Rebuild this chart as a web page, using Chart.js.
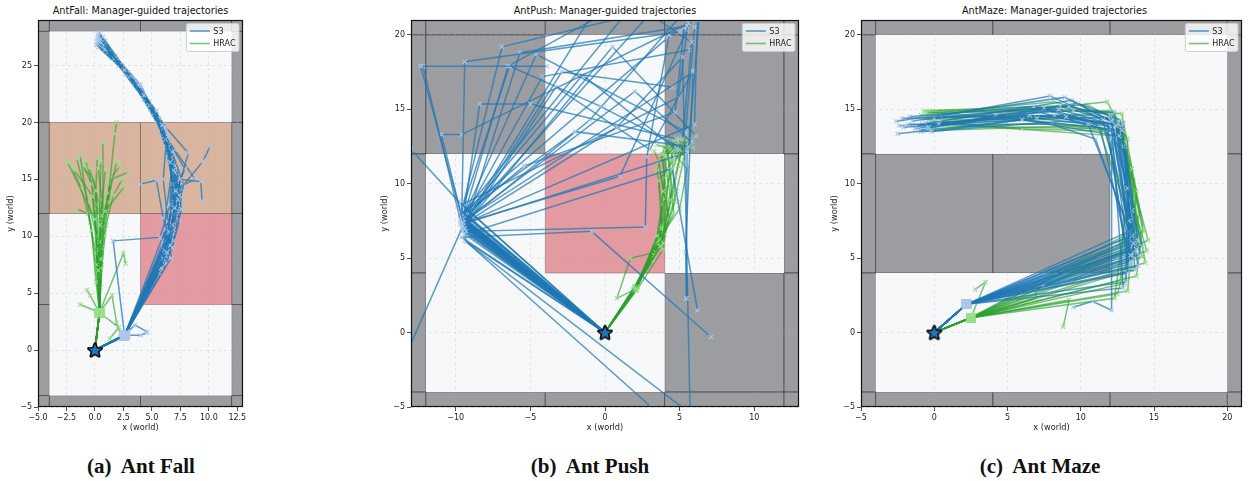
<!DOCTYPE html>
<html>
<head>
<meta charset="utf-8">
<script src="https://cdn.jsdelivr.net/npm/chart.js@4.4.0/dist/chart.umd.min.js"></script>
<style>
body { margin: 0; background: #fff; width: 1251px; height: 481px; position: relative; overflow: hidden; font-family: "DejaVu Sans", sans-serif; }
canvas { position: absolute; top: 0; }
.ttl { position: absolute; top: 5px; width: 240px; font-size: 9.7px; line-height: 12px; text-align: center; color: #111; }
.cap { position: absolute; top: 454px; width: 300px; font-family: "Liberation Serif", serif; font-weight: bold; font-size: 21px; text-align: center; color: #111; white-space: pre; }
</style>
</head>
<body>
<div class="ttl" style="left:20.5px">AntFall: Manager-guided trajectories</div>
<div class="ttl" style="left:485px">AntPush: Manager-guided trajectories</div>
<div class="ttl" style="left:934.5px">AntMaze: Manager-guided trajectories</div>
<canvas id="cFall" width="265" height="440" style="left:0px"></canvas>
<canvas id="cPush" width="450" height="440" style="left:370px"></canvas>
<canvas id="cMaze" width="431" height="440" style="left:820px"></canvas>
<div class="cap" style="left:-9px">(a)  Ant Fall</div>
<div class="cap" style="left:440px">(b)  Ant Push</div>
<div class="cap" style="left:890px">(c)  Ant Maze</div>
<script>
// --- donnees ---
const seriesNames = ['S3', 'HRAC'];
const startPoint = [0, 0];

// ticks
const fallXTicks = [-5, -2.5, 0, 2.5, 5, 7.5, 10, 12.5];
const fallYTicks = [-5, 0, 5, 10, 15, 20, 25];
const pushXTicks = [-10, -5, 0, 5, 10];
const pushYTicks = [-5, 0, 5, 10, 15, 20];
const mazeXTicks = [-5, 0, 5, 10, 15, 20];
const mazeYTicks = [-5, 0, 5, 10, 15, 20];

// limites des axes [min, max]
const fallXLim = [-5, 13], fallYLim = [-5, 29];
const pushXLim = [-13, 13], pushYLim = [-5, 21];
const mazeXLim = [-5, 21], mazeYLim = [-5, 21];

// labyrinthes : cases de 8 unites, lignes du haut vers le bas
// '#' mur, '.' sol, 'p' bloc mobile, 'o' zone de chute
const CELL = 8;
const fallGrid = ['####', '#..#', '#oo#', '#.p#', '#..#', '####'];
const fallOrigin = [-12, 36];   // x gauche, y haut
const pushGrid = ['#####', '##.##', '#.p.#', '#..##', '#####'];
const pushOrigin = [-20, 28];
const mazeGrid = ['#####', '#...#', '###.#', '#...#', '#####'];
const mazeOrigin = [-12, 28];

// AntFall
const fallS3 = [
  [[0,0],[2.6,1.3],[6.3,8.6],[7.0,12.5],[6.6,16.5],[5.9,19.8],[4.3,22.4],[2.6,24.6],[0.5,27.3]],
  [[0,0],[2.6,1.3],[6.0,8.0],[6.8,11.0],[7.1,14.0],[6.2,18.5],[4.8,21.5],[3.0,24.0],[0.8,26.8]],
  [[0,0],[2.5,1.2],[6.6,9.2],[7.3,13.2],[6.9,15.8],[6.0,19.5],[3.8,23.2],[1.7,25.6],[0.3,27.6]],
  [[0,0],[2.7,1.4],[5.8,7.2],[6.5,10.4],[6.8,14.6],[6.4,17.8],[5.2,20.8],[3.5,23.5],[0.9,26.4]],
  [[0,0],[2.6,1.2],[6.2,8.3],[6.9,10.6],[7.4,13.6],[7.0,15.6],[5.6,20.4],[2.2,25.1],[0.2,27.1]],
  [[0,0],[2.6,1.3],[1.6,9.6],[5.7,9.9],[6.6,12.8],[6.7,16.9],[5.4,21.0],[3.2,24.0],[0.6,27.0]],
  [[0,0],[2.6,1.3],[6.6,10.3],[7.5,15.0],[9.3,14.8],[9.4,13.1]],
  [[0,0],[2.6,1.3],[6.4,9.0],[7.2,13.8],[9.5,16.6],[10.1,17.9]],
  [[0,0],[2.6,1.3],[6.1,8.8],[6.7,12.2],[8.2,17.3],[6.2,19.6],[4.1,22.8],[1.2,26.2],[0.4,27.9]],
  [[0,0],[2.6,1.3],[6.5,10.0],[6.0,11.6],[5.4,14.9],[4.0,14.6]],
  [[0,0],[2.6,1.3],[6.9,9.6],[7.6,12.4],[7.0,16.2],[6.1,19.0],[4.4,22.0],[2.4,24.8],[0.1,26.9]],
  [[0,0],[2.6,1.3],[4.0,1.3],[4.5,1.5]],
  [[0,0],[2.6,1.3],[3.5,2.2],[4.6,1.6]],
  [[0,0],[2.6,1.3],[5.6,6.8],[6.3,10.8],[7.0,13.0],[6.8,17.4],[5.7,20.0],[4.0,23.0],[1.9,25.4],[0.7,27.5]],
  [[0,0],[2.6,1.3],[6.2,9.6],[7.1,12.0],[7.8,14.5],[6.5,18.2],[5.0,21.2],[2.8,24.3],[0.3,26.6]],
  [[0,0],[2.6,1.3],[6.7,8.1],[6.4,11.3],[6.0,15.0],[6.3,18.9],[4.7,21.8],[3.3,23.8],[0.9,27.2]],
  [[0,0],[2.6,1.3],[6.1,8.4],[6.9,11.8],[7.2,14.8],[6.5,17.2],[5.5,20.2],[3.6,23.4],[1.4,25.9],[0.4,27.0]],
  [[0,0],[2.6,1.3],[6.4,9.4],[7.3,12.9],[7.0,15.2],[6.1,18.8],[4.9,21.2],[2.9,24.4],[0.7,26.9]],
  [[0,0],[2.6,1.3],[5.9,7.8],[6.6,11.5],[6.9,13.9],[6.6,17.0],[5.8,19.4],[4.2,22.6],[2.0,25.3],[0.2,27.4]],
  [[0,0],[2.6,1.3],[6.5,9.8],[7.2,12.2],[7.5,14.1],[6.9,16.5],[6.0,19.1],[4.5,22.1],[2.5,24.7],[0.6,26.6]],
  [[0,0],[2.6,1.3],[6.8,9.0],[7.4,11.4],[7.1,14.4],[6.4,18.1],[5.3,20.6],[3.4,23.7],[1.1,26.3]],
  [[0,0],[2.6,1.3],[6.0,9.1],[6.8,12.7],[6.7,15.4],[6.2,17.9],[5.1,21.1],[3.9,22.9],[1.5,25.7],[0.3,27.8]],
  [[0,0],[2.6,1.3],[6.3,7.6],[7.0,10.2],[7.6,13.4],[7.2,16.0],[6.3,18.6],[4.6,21.7],[2.7,24.2],[0.8,27.0]],
  [[0,0],[2.6,1.3],[6.6,8.7],[6.9,13.5],[7.9,15.9],[6.0,19.2],[4.0,23.3],[1.8,25.8],[0.5,27.6]],
  [[0,0],[2.6,1.3],[6.2,10.6],[7.3,14.3],[8.8,15.0],[7.0,17.6],[5.4,20.0],[3.1,24.1],[0.2,26.8]],
  [[0,0],[2.6,1.3],[6.0,9.5],[6.3,12.6],[6.8,16.0],[5.6,19.9],[4.3,22.0],[2.1,25.0],[0.6,27.3]]
];
const fallHRAC = [
  [[0,0],[0.4,3.3],[0.3,7.0],[0.4,11.0],[0.5,16.5]],
  [[0,0],[0.4,3.3],[0.1,6.0],[-0.3,10.5],[-1.3,17.1]],
  [[0,0],[0.4,3.3],[0.5,8.0],[0.9,12.2],[1.9,16.5]],
  [[0,0],[0.4,3.3],[0.2,7.5],[0.0,11.5],[-2.4,16.5]],
  [[0,0],[0.4,3.3],[0.4,9.5],[1.2,13.8],[1.75,19.0],[1.9,20.0]],
  [[0,0],[0.4,3.3],[0.3,6.5],[0.6,11.8],[2.6,14.4]],
  [[0,0],[0.4,3.3],[0.1,8.5],[-0.6,12.0],[-1.6,12.4]],
  [[0,0],[0.4,3.3],[0.5,7.2],[0.7,10.8],[0.7,18.2]],
  [[0,0],[0.4,3.3],[-1.3,4.0]],
  [[0,0],[0.4,3.3],[-0.7,5.3],[-0.4,4.8]],
  [[0,0],[0.4,3.3],[2.5,8.5],[2.7,7.6]],
  [[0,0],[0.4,3.3],[2.1,2.0],[1.3,1.0]],
  [[0,0],[0.4,3.3],[0.3,8.8],[-0.2,13.5],[-1.8,15.8]],
  [[0,0],[0.4,3.3],[0.6,9.0],[1.1,13.0],[1.3,14.6]],
  [[0,0],[0.4,3.3],[0.2,10.0],[0.1,14.0],[-0.5,16.0]],
  [[0,0],[0.4,3.3],[0.5,5.5],[0.8,10.0],[1.5,15.2],[2.2,16.2]],
  [[0,0],[0.4,3.3],[1.5,4.8],[1.9,2.4],[2.3,1.2]],
  [[0,0],[0.4,3.3],[0.2,6.8],[0.1,10.0],[-0.3,14.6],[-1.0,16.2]],
  [[0,0],[0.4,3.3],[0.4,7.8],[0.5,11.4],[0.9,15.8]],
  [[0,0],[0.4,3.3],[0.3,9.0],[0.2,12.8],[-0.8,16.6]],
  [[0,0],[0.4,3.3],[0.5,8.4],[0.8,12.0],[1.4,15.0],[2.9,15.6]],
  [[0,0],[0.4,3.3],[0.1,7.2],[-0.4,11.2],[-1.2,14.2],[-2.0,16.0]],
  [[0,0],[0.4,3.3],[0.4,8.0],[0.6,13.2],[0.3,15.9]],
  [[0,0],[0.4,3.3],[0.3,6.0],[0.2,9.8],[-0.6,13.0],[-1.6,16.8]],
  [[0,0],[0.4,3.3],[0.6,7.5],[1.0,11.0],[1.6,13.6],[2.4,15.0]],
  [[0,0],[0.4,3.3],[0.2,8.2],[0.0,12.4],[0.2,16.8]],
  [[0,0],[0.4,3.3],[0.5,9.2],[0.4,12.6],[-0.2,15.2],[-1.1,16.0]]
];

// AntPush
const pushS3 = [
  [[0,0],[-9.5,7.4],[-12.35,17.9],[-3.9,17.9]],
  [[0,0],[-9.6,7.8],[-9.4,18.2],[5.0,20.2]],
  [[0,0],[-9.4,7.0],[-5.7,18.8],[5.5,20.6]],
  [[0,0],[-9.5,7.6],[-8.4,15.35],[-5.0,15.35],[4.8,13.0]],
  [[0,0],[-9.7,8.2],[-10.96,13.3],[-9.6,13.3],[5.6,20.8]],
  [[0,0],[-9.3,6.8],[2.7,7.1],[2.8,11.8],[4.3,20.0]],
  [[0,0],[-9.5,7.2],[-0.8,21.5]],
  [[0,0],[-9.6,7.9],[1.45,21.5]],
  [[0,0],[-9.5,7.5],[3.0,21.4],[5.8,19.5],[5.2,13.0]],
  [[0,0],[-9.4,6.6],[4.5,11.0],[6.2,1.5]],
  [[0,0],[-9.5,7.3],[5.5,12.1],[5.44,2.3]],
  [[0,0],[-9.8,8.8],[-13.0,12.3]],
  [[0,0],[-9.6,7.0],[-13.2,-1.2]],
  [[0,0],[-9.5,7.7],[-6.5,17.9],[0.1,21.5]],
  [[0,0],[-9.3,7.4],[0.8,13.8],[5.2,18.5],[5.7,-5.2]],
  [[0,0],[-9.5,8.0],[-2.0,13.5],[5.6,12.5],[6.3,21.0]],
  [[0,0],[-9.6,6.4],[-0.9,6.8],[7.1,-0.3]],
  [[0,0],[-9.4,6.2],[3.1,-5.0]],
  [[0,0],[-9.5,7.5],[-9.3,6.1],[5.4,-5.2]],
  [[0,0],[-9.5,7.5],[5.9,17.5],[5.4,5.4],[5.5,2.3]],
  [[0,0],[-9.7,7.6],[-12.2,17.9]],
  [[0,0],[-9.5,7.1],[-2.9,17.5],[4.5,16.5]],
  [[0,0],[-9.6,7.5],[-4.6,18.7],[5.4,13.5],[6.0,20.5]],
  [[0,0],[-9.4,7.9],[-1.5,17.3],[4.8,12.3]],
  [[0,0],[-9.5,7.3],[6.0,14.0],[6.2,21.2]],
  [[0,0],[-9.6,7.7],[-5.4,11.2],[4.7,14.8],[5.3,20.5]],
  [[0,0],[-9.5,6.9],[-3.3,16.5],[3.0,12.3],[5.9,17.6]],
  [[0,0],[-9.4,7.2],[0.5,19.2],[6.1,13.2]],
  [[0,0],[-9.7,7.3],[1.0,10.5],[5.8,21.0]],
  [[0,0],[-9.5,8.5],[-6.4,17.9],[-0.3,15.2],[5.5,12.2]],
  [[0,0],[-9.5,7.6],[-4.2,17.2],[5.7,19.0]],
  [[0,0],[-9.4,7.1],[-9.6,8.6],[4.9,15.8],[5.5,20.3]],
  [[0,0],[-9.6,7.4],[2.0,16.2],[5.8,12.8]],
  [[0,0],[-9.5,6.8],[-9.7,7.9],[4.2,19.8]],
  [[0,0],[-9.3,7.5],[-1.0,14.3],[5.1,21.3]],
  [[0,0],[-9.6,8.2],[-6.9,19.2],[2.6,21.5]]
];
const pushHRAC = [
  [[0,0],[2.0,3.0],[3.7,5.8],[4.4,8.9],[4.0,11.8],[4.8,12.6]],
  [[0,0],[2.1,2.9],[3.5,6.5],[3.9,9.5],[3.6,11.5],[3.3,12.2]],
  [[0,0],[2.0,3.1],[3.9,6.0],[4.2,10.0],[5.0,12.3],[5.6,12.8]],
  [[0,0],[1.9,2.8],[3.3,5.2],[4.6,8.0],[4.3,11.0],[4.1,12.9]],
  [[0,0],[2.1,3.0],[3.8,7.0],[3.6,10.2],[4.6,11.6],[5.9,12.4]],
  [[0,0],[2.0,2.9],[0.8,2.3],[1.7,5.0],[3.4,5.4]],
  [[0,0],[2.0,3.0],[4.0,6.6],[4.8,9.5],[5.3,11.8],[5.0,13.0]],
  [[0,0],[2.2,3.1],[3.6,6.2],[4.3,7.6],[3.7,10.8],[3.4,11.0]],
  [[0,0],[2.0,3.0],[3.4,6.0],[5.0,8.3],[5.5,11.0],[4.5,12.2]],
  [[0,0],[2.1,2.8],[3.9,5.6],[4.3,8.5],[4.7,10.5],[5.4,13.3]],
  [[0,0],[2.0,3.0],[3.2,4.8],[4.0,9.0],[3.9,12.0],[4.9,12.9]],
  [[0,0],[2.1,3.1],[3.8,7.2],[4.5,9.7],[4.2,12.4],[3.5,12.6]],
  [[0,0],[2.0,3.0],[3.6,6.0],[4.1,9.2],[4.4,11.4],[4.6,12.9]],
  [[0,0],[2.1,2.9],[3.7,6.3],[3.8,8.6],[3.5,10.9],[4.0,12.5]],
  [[0,0],[2.0,3.1],[3.9,6.8],[4.5,9.1],[4.9,11.2],[5.2,12.6]],
  [[0,0],[1.9,2.9],[3.4,5.7],[4.2,8.1],[4.0,10.4],[3.8,12.0]],
  [[0,0],[2.0,3.0],[3.8,6.1],[4.7,8.8],[4.5,12.0],[5.7,13.0]],
  [[0,0],[2.1,3.0],[3.5,5.9],[3.8,8.0],[4.1,11.7],[4.4,12.3]]
];

// AntMaze
const mazeS3 = [
  [[0,0],[2.2,1.9],[13.4,5.2],[12.4,13.9],[8.5,15.0],[-0.4,13.8]],
  [[0,0],[2.2,1.9],[13.6,6.0],[11.5,14.3],[7.9,15.9],[-1.5,14.2]],
  [[0,0],[2.2,1.9],[13.2,4.0],[13.3,7.5],[12.1,14.2],[8.9,15.8],[-2.6,14.2]],
  [[0,0],[2.2,1.9],[13.8,5.6],[12.8,13.6],[6.0,14.3],[-0.2,13.5]],
  [[0,0],[2.2,1.9],[13.5,6.5],[10.5,14.0],[7.0,14.4],[-2.5,13.35]],
  [[0,0],[2.2,1.9],[13.1,3.4],[13.2,9.7],[12.0,14.6],[9.2,15.2],[0.3,14.0]],
  [[0,0],[2.2,1.9],[13.9,4.5],[12.6,13.2],[4.2,14.6],[-1.0,13.6]],
  [[0,0],[2.2,1.9],[13.3,6.8],[11.0,13.0],[8.0,14.0],[-1.8,14.0]],
  [[0,0],[2.2,1.9],[13.7,5.0],[12.3,14.8],[9.5,14.9],[0.0,14.4]],
  [[0,0],[2.2,1.9],[12.9,3.0],[12.1,13.8],[7.5,15.1],[-0.8,14.3]],
  [[0,0],[2.2,1.9],[14.2,5.8],[13.5,8.2],[12.5,14.0],[9.0,14.5],[-2.1,13.8]],
  [[0,0],[2.2,1.9],[13.4,4.8],[12.1,13.0],[12.1,1.5],[10.8,2.1],[9.5,1.7]],
  [[0,0],[2.2,1.9],[7.4,3.1],[13.2,4.4],[11.8,14.1],[6.5,14.6],[-1.2,13.9]],
  [[0,0],[2.2,1.9],[13.6,5.4],[12.9,12.5],[12.9,14.0],[8.6,15.2],[0.5,14.5]],
  [[0,0],[2.2,1.9],[13.5,5.8],[12.2,13.5],[8.2,14.6],[-0.6,14.1]],
  [[0,0],[2.2,1.9],[13.9,6.2],[12.7,14.3],[9.8,15.4],[-1.3,13.7]],
  [[0,0],[2.2,1.9],[13.3,4.6],[11.8,13.6],[7.2,14.8],[0.2,13.9]],
  [[0,0],[2.2,1.9],[14.0,5.2],[13.0,12.8],[11.0,14.6],[-2.2,14.4]],
  [[0,0],[2.2,1.9],[13.6,6.6],[12.4,14.0],[8.8,14.2],[-0.9,13.5]],
  [[0,0],[2.2,1.9],[13.2,5.5],[11.3,13.9],[6.8,15.2],[-1.7,14.5]],
  [[0,0],[2.2,1.9],[13.7,4.2],[12.8,13.8],[9.4,15.6],[0.4,14.2]],
  [[0,0],[2.2,1.9],[13.4,6.2],[12.0,14.4],[7.6,14.5],[-2.4,13.9]]
];
const mazeHRAC = [
  [[0,0],[2.5,1.0],[14.4,4.7],[13.0,12.5],[12.0,14.9],[-0.5,14.8]],
  [[0,0],[2.5,1.0],[12.3,2.3],[13.5,11.0],[12.6,14.0],[0.5,13.6]],
  [[0,0],[2.5,1.0],[14.0,6.5],[12.5,14.2],[8.2,15.5],[-0.6,14.7]],
  [[0,0],[2.5,1.0],[13.8,3.8],[14.2,7.0],[12.9,13.5],[6.0,13.7],[-0.2,14.2]],
  [[0,0],[2.5,1.0],[14.5,5.5],[12.0,13.8],[9.0,14.6],[0.2,14.5]],
  [[0,0],[2.5,1.0],[13.2,2.8],[13.8,9.5],[12.4,14.5],[-0.8,14.0]],
  [[0,0],[2.5,1.0],[3.5,3.4],[2.8,2.9]],
  [[0,0],[2.5,1.0],[9.2,2.2],[8.8,0.4]],
  [[0,0],[2.5,1.0],[7.0,2.3],[6.9,2.9],[13.9,6.0],[11.2,13.8],[0.0,14.8]],
  [[0,0],[2.5,1.0],[14.3,6.8],[12.8,14.7],[9.5,15.0],[-0.3,14.9]],
  [[0,0],[2.5,1.0],[12.7,3.5],[13.2,13.0],[11.8,15.5],[0.8,14.3]],
  [[0,0],[2.5,1.0],[14.1,5.8],[12.7,13.9],[9.6,14.4],[-0.4,14.3]],
  [[0,0],[2.5,1.0],[13.5,4.2],[13.1,12.0],[11.5,13.7],[0.6,13.9]],
  [[0,0],[2.5,1.0],[14.6,6.2],[12.3,14.6],[8.8,15.2],[-0.9,14.6]],
  [[0,0],[2.5,1.0],[13.0,3.3],[13.6,10.2],[12.2,14.8],[0.1,14.1]],
  [[0,0],[2.5,1.0],[14.2,5.1],[11.6,13.6],[7.5,14.1],[-0.1,13.7]],
  [[0,0],[2.5,1.0],[13.7,6.9],[12.9,14.1],[10.4,15.3],[-0.7,14.9]],
  [[0,0],[2.5,1.0],[12.5,2.6],[14.0,8.0],[12.6,13.2],[1.0,14.0]]
];

// --- styles ---
const BLUE_LINE = 'rgba(31,119,180,0.72)';
const BLUE_MARK = 'rgba(174,199,232,0.95)';
const GREEN_LINE = 'rgba(44,160,44,0.62)';
const GREEN_MARK = 'rgba(152,223,138,0.95)';
const cellFill = { '#': '#9b9da1', '.': '#f7f8fa', 'p': '#e39aa1', 'o': '#d9b5a0' };
const cellEdge = { '#': 'rgba(40,40,45,0.55)', 'p': 'rgba(70,60,60,0.35)', 'o': 'rgba(60,55,50,0.45)' };

Chart.defaults.font.family = '"DejaVu Sans", sans-serif';
Chart.defaults.color = '#222';

// etoile de depart (marqueur '*' de matplotlib)
const starImg = document.createElement('canvas');
starImg.width = 18; starImg.height = 18;
(function () {
  const c = starImg.getContext('2d');
  c.beginPath();
  for (let i = 0; i < 10; i++) {
    const r = i % 2 === 0 ? 6.8 : 2.9;
    const a = -Math.PI / 2 + i * Math.PI / 5;
    const px = 9 + r * Math.cos(a), py = 9.5 + r * Math.sin(a);
    if (i === 0) c.moveTo(px, py); else c.lineTo(px, py);
  }
  c.closePath();
  c.lineJoin = 'round';
  c.lineWidth = 3;
  c.strokeStyle = '#000';
  c.stroke();
  c.fillStyle = '#1f77b4';
  c.fill();
})();

function fmtTick(decimals) {
  return v => (decimals ? Number(v).toFixed(decimals) : String(v)).replace('-', '\u2212');
}

function trajSets(trajs, lineColor, markColor, squares, order) {
  return trajs.map(t => ({
    data: t.map(([x, y]) => ({ x, y })),
    showLine: true,
    borderColor: lineColor,
    borderWidth: 1.5,
    order: order,
    pointStyle: c => (squares && c.dataIndex === 1) ? 'rect' : 'crossRot',
    pointRadius: c => c.dataIndex === 0 ? 0 : ((squares && c.dataIndex === 1) ? 5.8 : 3),
    pointBorderColor: markColor,
    pointBackgroundColor: markColor,
    pointBorderWidth: 1.1
  }));
}

function px(chart, x0, y0, x1, y1) {
  const sx = chart.scales.x, sy = chart.scales.y;
  const a = sx.getPixelForValue(x0), b = sx.getPixelForValue(x1);
  const top = sy.getPixelForValue(y1), bot = sy.getPixelForValue(y0);
  return [a, top, b - a, bot - top];
}

function mazePlugin(grid, origin) {
  return {
    id: 'maze',
    beforeDraw(chart) {
      const { ctx, chartArea: ca } = chart;
      ctx.save();
      ctx.beginPath();
      ctx.rect(ca.left, ca.top, ca.width, ca.height);
      ctx.clip();
      ['#', '.', 'p', 'o'].forEach(kind => {
        grid.forEach((row, i) => {
          [...row].forEach((ch, j) => {
            if (ch !== kind) return;
            const r = px(chart, origin[0] + j * CELL, origin[1] - (i + 1) * CELL,
                         origin[0] + (j + 1) * CELL, origin[1] - i * CELL);
            ctx.fillStyle = cellFill[ch];
            ctx.fillRect(r[0], r[1], r[2], r[3]);
            if (cellEdge[ch]) {
              ctx.strokeStyle = cellEdge[ch];
              ctx.lineWidth = 1;
              ctx.strokeRect(r[0], r[1], r[2], r[3]);
            }
          });
        });
      });
      ctx.restore();
    },
    afterDraw(chart) {
      const { ctx, chartArea: ca } = chart;
      ctx.save();
      // cadre
      ctx.strokeStyle = '#111';
      ctx.lineWidth = 1.2;
      ctx.strokeRect(Math.round(ca.left) + 0.5, Math.round(ca.top) + 0.5,
                     Math.round(ca.width) - 1, Math.round(ca.height) - 1);
      // legende
      ctx.font = '8px "DejaVu Sans"';
      const tw = Math.max(...seriesNames.map(s => ctx.measureText(s).width));
      const w = 3.5 + 20 + 3.5 + tw + 3.5, h = 28;
      const lx = ca.right - 4 - w, ly = ca.top + 3.5;
      ctx.fillStyle = 'rgba(255,255,255,0.8)';
      ctx.strokeStyle = 'rgba(204,204,204,0.9)';
      ctx.lineWidth = 1;
      ctx.beginPath();
      ctx.roundRect(lx, ly, w, h, 2);
      ctx.fill();
      ctx.stroke();
      [BLUE_LINE, GREEN_LINE].forEach((col, k) => {
        const yy = ly + 7.5 + k * 12.5;
        ctx.strokeStyle = col;
        ctx.lineWidth = 1.6;
        ctx.beginPath();
        ctx.moveTo(lx + 3.5, yy);
        ctx.lineTo(lx + 23.5, yy);
        ctx.stroke();
        ctx.fillStyle = '#222';
        ctx.textBaseline = 'middle';
        ctx.fillText(seriesNames[k], lx + 27, yy + 0.5);
      });
      ctx.restore();
    }
  };
}

function makePanel(id, opt) {
  const datasets = [
    { data: [{ x: startPoint[0], y: startPoint[1] }], pointStyle: starImg, pointRadius: 8, order: 0 }
  ].concat(trajSets(opt.s3, BLUE_LINE, BLUE_MARK, opt.squares, 1))
   .concat(trajSets(opt.hrac, GREEN_LINE, GREEN_MARK, opt.squares, 2));

  const gridOpts = {
    color: 'rgba(170,170,175,0.32)',
    lineWidth: 0.8,
    tickColor: '#222',
    tickLength: 4,
    tickWidth: 0.8,
    tickBorderDash: []
  };

  new Chart(document.getElementById(id), {
    type: 'scatter',
    data: { datasets },
    options: {
      responsive: false,
      animation: false,
      events: [],
      layout: { padding: { top: 20, left: 0, right: opt.padRight, bottom: 0 } },
      plugins: { legend: { display: false }, tooltip: { enabled: false } },
      scales: {
        x: {
          type: 'linear',
          min: opt.xLim[0], max: opt.xLim[1],
          afterBuildTicks: s => { s.ticks = opt.xTicks.map(v => ({ value: v })); },
          afterFit: s => { s.height = 33; },
          ticks: { callback: fmtTick(opt.xDec), font: { size: 8 }, padding: 2, maxRotation: 0, autoSkip: false },
          grid: gridOpts,
          border: { display: false, dash: [3, 3] },
          title: { display: true, text: 'x (world)', font: { size: 8.2 }, padding: { top: 0, bottom: 7 } }
        },
        y: {
          type: 'linear',
          min: opt.yLim[0], max: opt.yLim[1],
          afterBuildTicks: s => { s.ticks = opt.yTicks.map(v => ({ value: v })); },
          afterFit: s => { s.width = opt.yAxisW; },
          ticks: { callback: fmtTick(0), font: { size: 8 }, padding: 2, autoSkip: false },
          grid: gridOpts,
          border: { display: false, dash: [3, 3] },
          title: { display: true, text: 'y (world)', font: { size: 8.2 }, padding: { top: opt.yTitlePad, bottom: 0 } }
        }
      }
    },
    plugins: [mazePlugin(opt.grid, opt.origin)]
  });
}

makePanel('cFall', {
  s3: fallS3, hrac: fallHRAC, squares: true,
  xLim: fallXLim, yLim: fallYLim, xTicks: fallXTicks, yTicks: fallYTicks, xDec: 1,
  grid: fallGrid, origin: fallOrigin,
  yAxisW: 38, padRight: 22, yTitlePad: 6
});
makePanel('cPush', {
  s3: pushS3, hrac: pushHRAC, squares: false,
  xLim: pushXLim, yLim: pushYLim, xTicks: pushXTicks, yTicks: pushYTicks, xDec: 0,
  grid: pushGrid, origin: pushOrigin,
  yAxisW: 41, padRight: 21, yTitlePad: 10
});
makePanel('cMaze', {
  s3: mazeS3, hrac: mazeHRAC, squares: true,
  xLim: mazeXLim, yLim: mazeYLim, xTicks: mazeXTicks, yTicks: mazeYTicks, xDec: 0,
  grid: mazeGrid, origin: mazeOrigin,
  yAxisW: 41, padRight: 3, yTitlePad: 10
});
</script>
</body>
</html>
